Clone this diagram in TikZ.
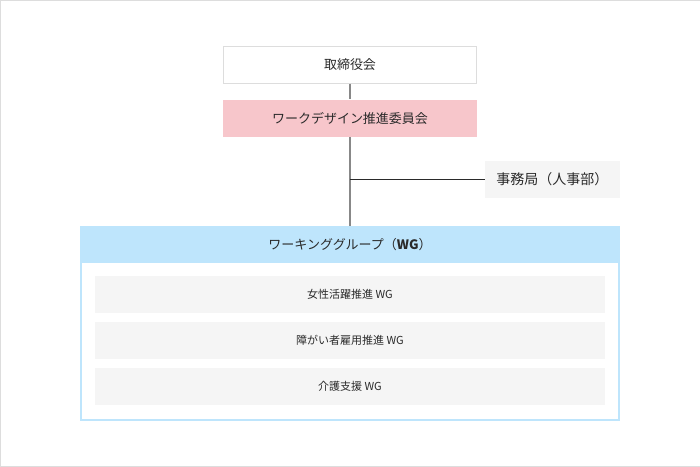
\documentclass[tikz,border=0pt]{standalone}
\usepackage{fontspec}
\setmainfont{Noto Sans CJK JP}
\usetikzlibrary{positioning}
\definecolor{boxgray}{HTML}{F5F5F5}
\definecolor{framegray}{HTML}{DDDDDD}
\definecolor{linegray}{HTML}{888888}
\definecolor{pinkfill}{HTML}{F7C6CB}
\definecolor{bluefill}{HTML}{BEE5FC}
\definecolor{textgray}{HTML}{2A2A2A}
\tikzset{
  orgbox/.style = {minimum width = 254pt, minimum height = 37pt, inner sep = 0pt, font = \fontsize{13}{15}\selectfont, text = textgray},
  wgbox/.style = {fill = boxgray, minimum width = 510pt, minimum height = 37pt, inner sep = 0pt, font = \fontsize{11}{13}\selectfont, text = textgray}
}
\begin{document}
\begin{tikzpicture}[x = 1pt, y = -1pt]
	\draw[framegray, fill = white] (0,0) rectangle (700,466); %frame
	\node[orgbox, draw = framegray, line width = 1pt] (board) at (350,64.5) {取締役会};
	\node[orgbox, fill = pinkfill] (committee) at (350,118) {ワークデザイン推進委員会};
	\node[orgbox, fill = boxgray, minimum width = 135pt, font = \fontsize{14}{16}\selectfont] (office) at (552.5,179) {事務局（人事部）};
	% working group container
	\draw[bluefill, line width = 2pt] (81,227) rectangle (619,420);
	\node[orgbox, fill = bluefill, minimum width = 540pt] (wg) at (350,244.5) {ワーキンググループ（\textbf{WG}）};
	\node[wgbox] (women) at (350,294.5) {女性活躍推進 WG};
	\node[wgbox] (disab) at (350,340.5) {障がい者雇用推進 WG};
	\node[wgbox] (care) at (350,386.5) {介護支援 WG};
	% connectors
	\draw[linegray, line width = 2pt] (board) -- (committee);
	\draw[linegray, line width = 2pt] (committee) -- (wg);
	\coordinate (joint) at (committee.south |- office);
	\draw[textgray, line width = 1pt] (joint) -- (office);
\end{tikzpicture}
\end{document}
